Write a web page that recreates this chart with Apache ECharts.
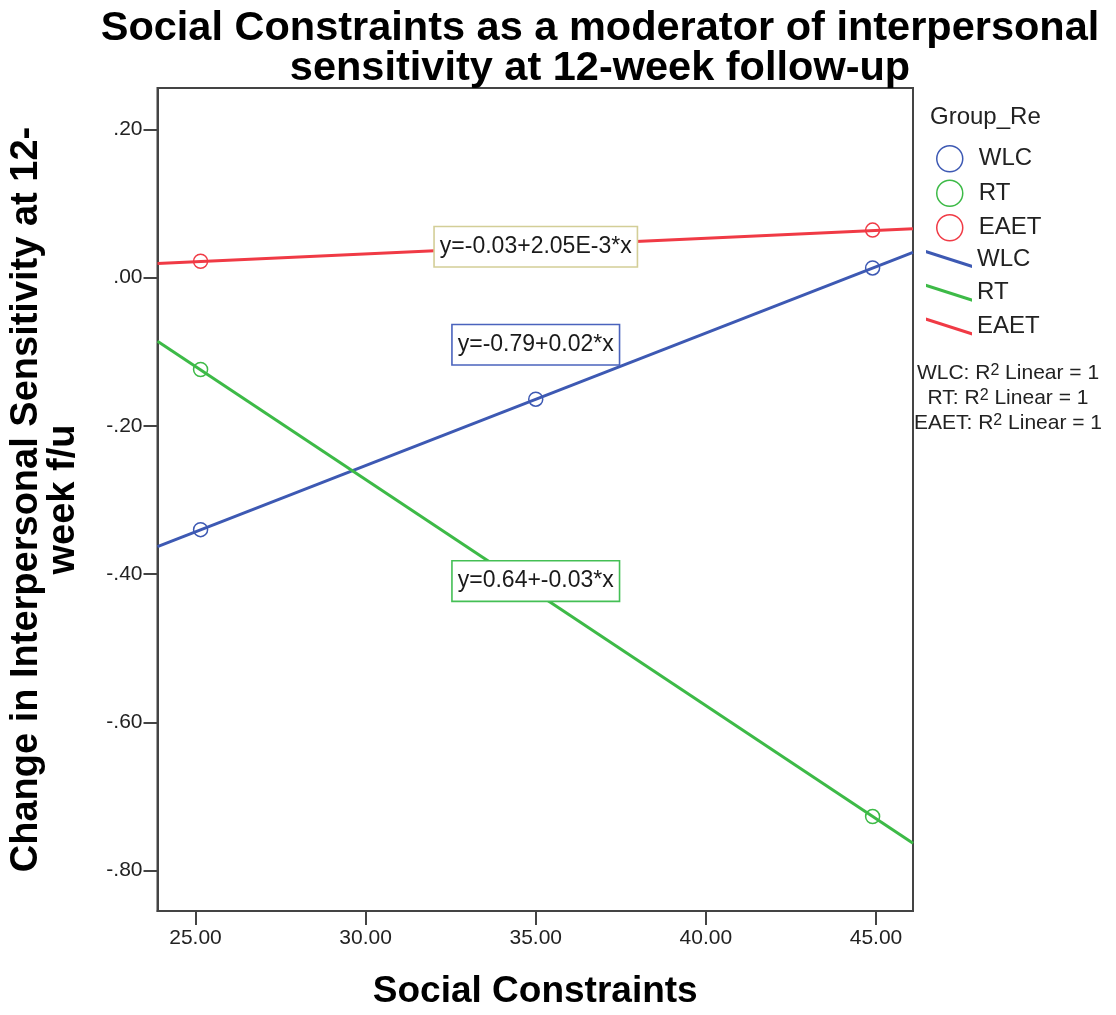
<!DOCTYPE html>
<html>
<head>
<meta charset="utf-8">
<title>Social Constraints as a moderator of interpersonal sensitivity</title>
<script src="https://cdn.jsdelivr.net/npm/echarts@6/dist/echarts.min.js"></script>
<style>
  html, body { margin: 0; padding: 0; background: #ffffff; }
  #chart { width: 1116px; height: 1015px; }
</style>
</head>
<body>
<div id="chart"></div>
<script>
// Group names and colours
const groups = ['WLC', 'RT', 'EAET'];
const groupColors = ['#3d59b3', '#3dba47', '#f03a45'];
const equationBorders = ['#4a63bd', '#44bf55', '#d3ce97'];

// Observed points per group: [Social Constraints, change score]
const wlcPoints = [[25.15, -0.340], [35.0, -0.164], [44.9, 0.013]];
const rtPoints = [[25.15, -0.124], [44.9, -0.727]];
const eaetPoints = [[25.15, 0.022], [44.9, 0.064]];

// Linear fit lines, end points at the axis limits
const wlcFit = [[23.884, -0.363], [46.087, 0.034]];
const rtFit = [[23.884, -0.086], [46.087, -0.763]];
const eaetFit = [[23.884, 0.019], [46.087, 0.066]];

// Fit equations and where their boxes sit
const equations = ['y=-0.79+0.02*x', 'y=0.64+-0.03*x', 'y=-0.03+2.05E-3*x'];
const equationAnchors = [[35.0, -0.0906], [35.0, -0.4094], [35.0, 0.0416]];

// Axis ranges and tick labels
const xRange = [23.884, 46.087];
const yRange = [-0.8544, 0.2557];
const xTicks = [25, 30, 35, 40, 45];
const yTicks = [-0.8, -0.6, -0.4, -0.2, 0, 0.2];

// Goodness of fit notes
const fitNotes = ['WLC', 'RT', 'EAET'];

const FONT = "'Liberation Sans', Arial, sans-serif";
const pointSets = [wlcPoints, rtPoints, eaetPoints];
const fitSets = [wlcFit, rtFit, eaetFit];

const chart = echarts.init(document.getElementById('chart'), null, { renderer: 'canvas' });

const series = [];
// hollow circle markers
groups.forEach((g, i) => {
  series.push({
    name: g,
    type: 'scatter',
    data: pointSets[i],
    symbol: 'circle',
    symbolSize: 14,
    itemStyle: { color: 'rgba(255,255,255,0)', borderColor: groupColors[i], borderWidth: 1.5, opacity: 1 },
    z: 4,
    silent: true
  });
});
// fit lines
groups.forEach((g, i) => {
  series.push({
    name: g + ' line',
    type: 'line',
    data: fitSets[i],
    showSymbol: false,
    symbol: 'none',
    lineStyle: { color: groupColors[i], width: 3 },
    itemStyle: { color: groupColors[i] },
    clip: true,
    z: 3,
    silent: true
  });
});
// equation boxes
[0, 1, 2].forEach(i => {
  series.push({
    name: 'eq' + i,
    type: 'scatter',
    data: [equationAnchors[i]],
    symbolSize: 0,
    itemStyle: { opacity: 1 },
    z: 6,
    silent: true,
    label: {
      show: true,
      position: 'inside',
      formatter: equations[i],
      color: '#1a1a1a',
      fontFamily: FONT,
      fontSize: 23,
      backgroundColor: '#ffffff',
      borderColor: equationBorders[i],
      borderWidth: 1.6,
      padding: [8, 5, 8, 5]
    }
  });
});

const yFmt = v => {
  const s = Math.abs(v).toFixed(2).replace(/^0/, '');
  return (v < -1e-9 ? '-' : '') + s;
};

const option = {
  animation: false,
  backgroundColor: '#ffffff',
  title: {
    text: 'Social Constraints as a moderator of interpersonal\nsensitivity at 12-week follow-up',
    left: 600,
    top: 9,
    padding: 0,
    textAlign: 'center',
    textStyle: { fontFamily: FONT, fontWeight: 'bold', fontSize: 41.5, lineHeight: 40, color: '#000' }
  },
  grid: {
    left: 157, right: 203, top: 88, bottom: 100,
    show: true, borderColor: '#444', borderWidth: 2, backgroundColor: '#ffffff'
  },
  legend: [
    {
      data: groups.map((g, i) => ({ name: g, icon: 'circle',
        itemStyle: { color: 'rgba(255,255,255,0)', borderColor: groupColors[i], borderWidth: 1.5 } })),
      orient: 'vertical',
      left: 936, top: 145,
      itemWidth: 48, itemHeight: 26, itemGap: 7,
      padding: 0,
      selectedMode: false,
      textStyle: { fontFamily: FONT, fontSize: 24, color: '#222' }
    },
    {
      data: groups.map((g, i) => ({ name: g + ' line',
        icon: 'path://M0,0 L46,14.8 L46,18 L0,3.2 Z',
        itemStyle: { color: groupColors[i] } })),
      formatter: name => name.replace(' line', ''),
      orient: 'vertical',
      left: 926, top: 247,
      itemWidth: 46, itemHeight: 18, itemGap: 9.75,
      symbolKeepAspect: false,
      padding: 0,
      selectedMode: false,
      textStyle: { fontFamily: FONT, fontSize: 24, color: '#222' }
    }
  ],
  xAxis: {
    type: 'value',
    min: xRange[0], max: xRange[1],
    name: 'Social Constraints',
    nameLocation: 'middle',
    nameGap: 62,
    nameTextStyle: { fontFamily: FONT, fontWeight: 'bold', fontSize: 37, color: '#000' },
    axisLine: { show: true, onZero: false, lineStyle: { color: '#444', width: 2 } },
    axisTick: { show: true, inside: false, length: 14, lineStyle: { color: '#444', width: 2 }, customValues: xTicks },
    axisLabel: { customValues: xTicks, formatter: v => v.toFixed(2), fontFamily: FONT, fontSize: 21, color: '#222', margin: 17 },
    splitLine: { show: false }
  },
  yAxis: {
    type: 'value',
    min: yRange[0], max: yRange[1],
    name: 'Change in Interpersonal Sensitivity at 12-\nweek f/u',
    nameLocation: 'middle',
    nameRotate: 90,
    nameGap: 75,
    nameTextStyle: { fontFamily: FONT, fontWeight: 'bold', fontSize: 38, lineHeight: 37, color: '#000' },
    axisLine: { show: true, onZero: false, lineStyle: { color: '#444', width: 2 } },
    axisTick: { show: true, inside: false, length: 14, lineStyle: { color: '#444', width: 2 }, customValues: yTicks },
    axisLabel: { customValues: yTicks, formatter: yFmt, fontFamily: FONT, fontSize: 21, color: '#222', margin: 15 },
    splitLine: { show: false }
  },
  graphic: [
    {
      type: 'text', left: 930, top: 105,
      style: { text: 'Group_Re', fontFamily: FONT, fontSize: 24, fill: '#222' }
    }
  ].concat(fitNotes.map((g, i) => ({
    type: 'text',
    x: 1008, y: 373 + i * 25,
    style: {
      text: '{n|' + g + ': R}{s|2}{n| Linear = 1}',
      align: 'center', verticalAlign: 'middle',
      rich: {
        n: { fontFamily: FONT, fontSize: 21, fill: '#222', verticalAlign: 'bottom' },
        s: { fontFamily: FONT, fontSize: 16, fill: '#222', verticalAlign: 'top' }
      }
    }
  }))),
  series: series
};

chart.setOption(option);
</script>
</body>
</html>
